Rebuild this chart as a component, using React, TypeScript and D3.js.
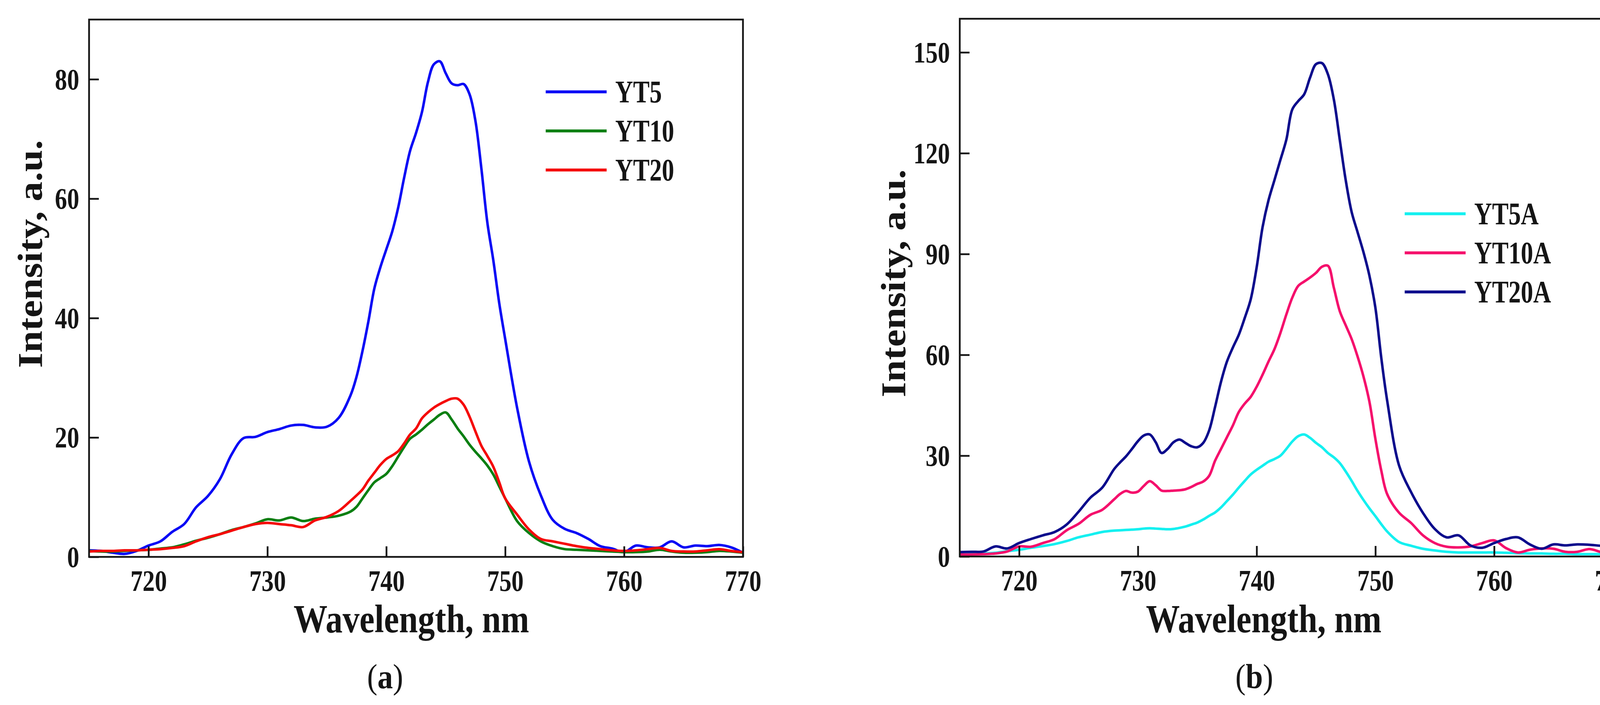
import React, { useEffect, useRef } from 'react';
import * as d3 from 'd3';

// wavelength grid, panel (a)
const wlA = [
  715, 716, 717, 718, 719, 720, 721, 722, 723, 724, 725, 726, 727, 728, 729, 730, 731, 732, 733, 734, 735, 736, 737,
  737.5, 738, 738.5, 739, 739.5, 740, 740.5, 741, 741.5, 742, 742.5, 743, 743.5, 744, 744.5, 745, 745.5, 746, 746.5,
  747, 747.5, 748, 748.5, 749, 749.5, 750,
  751, 752, 753, 754, 755, 756, 757, 758, 759, 760, 761, 762, 763, 764, 765, 766, 767, 768, 769, 770,
];

const yt5 = [
  1.1, 1.0, 0.7, 0.5, 1.0, 1.9, 2.6, 4.2, 5.5, 8.3, 10.2, 13.0, 17.2, 19.9, 20.1, 20.9, 21.4, 22.0, 22.1, 21.7, 21.8, 23.3, 27.1,
  30.2, 34.5, 39.5, 45.0, 48.5, 51.5, 54.5, 58.5, 63.5, 68.0, 71.0, 74.5, 79.5, 82.5, 83.0, 81.0, 79.3, 79.0, 79.2,
  77.5, 73.0, 65.0, 56.0, 49.7, 42.5, 36.5,
  25.0, 16.0, 10.3, 6.2, 4.7, 4.0, 3.0, 1.8, 1.4, 0.8, 1.9, 1.6, 1.6, 2.6, 1.6, 1.9, 1.8, 2.0, 1.6, 0.7,
];

const yt10 = [
  1.0, 0.9, 0.9, 1.0, 1.1, 1.2, 1.4, 1.6, 2.1, 2.7, 3.2, 3.8, 4.5, 5.0, 5.6, 6.3, 6.1, 6.6, 6.0, 6.4, 6.6, 6.9, 7.6,
  8.4, 9.8, 11.2, 12.5, 13.2, 13.9, 15.2, 16.8, 18.4, 19.8, 20.5, 21.3, 22.2, 23.0, 23.8, 24.2, 23.0, 21.5, 20.2,
  18.8, 17.6, 16.5, 15.3, 13.8, 11.8, 9.8,
  6.0, 4.0, 2.6, 1.8, 1.3, 1.2, 1.1, 1.0, 0.9, 0.8, 0.8, 0.9, 1.2, 0.9, 0.7, 0.7, 0.8, 1.0, 0.9, 0.7,
];

const yt20 = [
  0.9, 1.0, 1.0, 1.1, 1.1, 1.2, 1.3, 1.5, 1.8, 2.6, 3.3, 3.8, 4.4, 5.0, 5.5, 5.7, 5.5, 5.3, 5.0, 6.1, 6.7, 7.7, 9.4,
  10.3, 11.3, 12.8, 14.1, 15.4, 16.4, 17.0, 17.7, 19.0, 20.5, 21.5, 23.2, 24.2, 25.0, 25.6, 26.1, 26.5, 26.5, 25.5,
  23.5, 21.0, 18.6, 16.9, 15.1, 12.5, 9.8,
  7.1, 4.6, 3.0, 2.6, 2.2, 1.8, 1.5, 1.3, 1.1, 1.0, 1.1, 1.3, 1.5, 1.0, 0.9, 0.9, 1.1, 1.3, 1.0, 0.8,
];

// wavelength grid, panel (b)
const wlB = [
  715, 716, 717, 718, 719, 720, 721, 722, 723, 724, 725, 726, 727, 728,
  728.5, 729, 729.5, 730, 730.5, 731, 731.5, 732, 732.5, 733, 733.5, 734, 734.5, 735, 735.5, 736, 736.5, 737, 737.5,
  738, 738.5, 739, 739.5, 740, 740.5, 741, 741.5, 742, 742.5, 743, 743.5, 744, 744.5, 745, 745.5, 746, 746.5, 747,
  747.5, 748, 748.5, 749, 749.5, 750, 750.5, 751,
  752, 753, 754, 755, 756, 757, 758, 759, 760, 761, 762, 763, 764, 765, 766, 767, 768, 769, 770,
];

const yt5a = [
  0.6, 0.7, 0.9, 1.1, 1.6, 2.0, 2.6, 3.1, 3.7, 4.6, 5.7, 6.5, 7.3, 7.7,
  7.8, 7.9, 8.0, 8.1, 8.3, 8.4, 8.3, 8.2, 8.1, 8.2, 8.5, 8.9, 9.5, 10.1, 11.0, 12.1, 13.1, 14.6, 16.5,
  18.4, 20.5, 22.5, 24.4, 25.8, 27.0, 28.2, 29.0, 30.0, 32.0, 34.2, 35.8, 36.3, 35.3, 33.8, 32.5, 30.8, 29.5, 27.8,
  25.3, 22.5, 19.5, 16.8, 14.3, 12.0, 9.6, 7.4,
  4.3, 3.2, 2.3, 1.8, 1.4, 1.2, 1.2, 1.2, 1.2, 1.1, 1.0, 0.9, 0.9, 0.8, 0.8, 0.7, 0.7, 0.7, 0.7,
];

const yt10a = [
  0.6, 0.6, 0.7, 0.9, 1.5, 3.0, 2.9, 4.0, 5.2, 7.8, 9.7, 12.4, 13.9, 17.0,
  18.6, 19.5, 19.0, 19.3, 21.0, 22.4, 21.2, 19.6, 19.5, 19.6, 19.7, 20.0, 20.7, 21.6, 22.3, 24.0, 28.5, 32.0, 35.5,
  39.0, 43.0, 45.5, 47.5, 50.5, 54.1, 58.0, 61.7, 66.5, 72.0, 77.0, 80.5, 81.8, 83.0, 84.4, 86.2, 86.5, 80.0, 73.0,
  68.8, 64.7, 59.5, 53.5, 46.0, 35.0, 25.5, 18.5,
  13.0, 10.0, 6.3, 4.0, 2.9, 2.7, 3.0, 4.0, 4.8, 2.5, 1.2, 2.0, 2.4, 2.3, 1.4, 1.4, 2.2, 1.3, 0.3,
];

const yt20a = [
  1.3, 1.4, 1.5, 3.0, 2.4, 4.0, 5.2, 6.3, 7.3, 9.5, 13.3, 17.5, 20.5, 26.0,
  28.0, 29.8, 32.0, 34.3, 36.0, 36.3, 34.0, 30.8, 32.0, 34.0, 34.8, 33.8, 32.8, 32.5, 33.8, 37.5, 44.5, 52.0, 58.0,
  62.2, 66.0, 71.0, 76.5, 86.0, 98.0, 106.0, 112.0, 118.0, 124.0, 133.0, 135.5, 137.5, 142.5, 146.5, 146.8, 143.5, 136.0, 124.0,
  112.0, 102.5, 96.5, 90.5, 83.5, 74.0, 59.0, 46.2,
  27.0, 19.2, 13.0, 8.2, 5.7, 6.3, 3.3, 2.6, 4.0, 5.2, 5.7, 3.6, 2.3, 3.6, 3.3, 3.6, 3.5, 3.2, 3.2,
];

const xTicks = [720, 730, 740, 750, 760, 770];
const yTicksA = [0, 20, 40, 60, 80];
const yTicksB = [0, 30, 60, 90, 120, 150];

const namesA = ['YT5', 'YT10', 'YT20'];
const namesB = ['YT5A', 'YT10A', 'YT20A'];

const FONT = '"Liberation Serif", "Times New Roman", serif';
const INK = '#151515';

interface PanelConfig {
  id: string;
  left: number;
  right: number;
  top: number;
  bottom: number;
  yMax: number;
  yTicks: number[];
  wl: number[];
  series: number[][];
  names: string[];
  colors: string[];
  legendX: number;
  legendY: number;
  yLabelX: number;
  yLabelY: number;
  xLabelX: number;
  tagX: number;
  tag: string;
}

function drawPanel(root: d3.Selection<SVGSVGElement, unknown, null, undefined>, c: PanelConfig) {
  const x = d3.scaleLinear().domain([715, 770]).range([c.left, c.right]);
  const y = d3.scaleLinear().domain([0, c.yMax]).range([c.bottom, c.top]);

  const g = root.append('g');

  g.append('clipPath')
    .attr('id', `clip-${c.id}`)
    .append('rect')
    .attr('x', c.left)
    .attr('y', c.top)
    .attr('width', c.right - c.left)
    .attr('height', c.bottom - c.top);

  const line = d3.line<number>()
    .x((_, i) => x(c.wl[i]))
    .y(d => y(d))
    .curve(d3.curveCatmullRom.alpha(0.5));

  // curves
  c.series.forEach((s, i) => {
    g.append('path')
      .datum(s)
      .attr('clip-path', `url(#clip-${c.id})`)
      .attr('fill', 'none')
      .attr('stroke', c.colors[i])
      .attr('stroke-width', 6.5)
      .attr('stroke-linejoin', 'round')
      .attr('d', line);
  });

  // axes, ticks pointing inward
  const xAxis = g.append('g')
    .attr('transform', `translate(0,${c.bottom})`)
    .call(d3.axisBottom(x).tickValues(xTicks).tickSizeInner(-27).tickSizeOuter(0).tickPadding(32));

  const yAxis = g.append('g')
    .attr('transform', `translate(${c.left},0)`)
    .call(d3.axisLeft(y).tickValues(c.yTicks).tickSizeInner(-25).tickSizeOuter(0).tickPadding(31));

  [xAxis, yAxis].forEach(ax => {
    ax.select('.domain').remove();
    ax.selectAll('line').attr('stroke', INK).attr('stroke-width', 4.5);
    ax.selectAll('text')
      .attr('fill', INK)
      .attr('font-family', FONT)
      .attr('font-weight', 'bold')
      .attr('font-size', 77)
      .attr('transform', 'scale(0.81,1)');
  });
  yAxis.selectAll('text').attr('dy', '0.33em');

  // frame
  g.append('rect')
    .attr('x', c.left)
    .attr('y', c.top)
    .attr('width', c.right - c.left)
    .attr('height', c.bottom - c.top)
    .attr('fill', 'none')
    .attr('stroke', INK)
    .attr('stroke-width', 4.5);

  // legend
  c.names.forEach((name, i) => {
    const ly = c.legendY + i * 100;
    g.append('line')
      .attr('x1', c.legendX)
      .attr('x2', c.legendX + 156)
      .attr('y1', ly)
      .attr('y2', ly)
      .attr('stroke', c.colors[i])
      .attr('stroke-width', 7.5);
    g.append('text')
      .attr('transform', `translate(${c.legendX + 178},${ly + 27}) scale(0.79,1)`)
      .attr('font-family', FONT)
      .attr('font-weight', 'bold')
      .attr('font-size', 80)
      .attr('fill', INK)
      .text(name);
  });

  // axis titles
  g.append('text')
    .attr('transform', `translate(${c.yLabelX},${c.yLabelY}) scale(0.87,1) rotate(-90)`)
    .attr('text-anchor', 'middle')
    .attr('font-family', FONT)
    .attr('font-weight', 'bold')
    .attr('font-size', 101)
    .attr('fill', INK)
    .text('Intensity, a.u.');

  g.append('text')
    .attr('transform', `translate(${c.xLabelX},1618) scale(0.86,1)`)
    .attr('text-anchor', 'middle')
    .attr('font-family', FONT)
    .attr('font-weight', 'bold')
    .attr('font-size', 101)
    .attr('fill', INK)
    .text('Wavelength, nm');

  // panel tag
  const tag = g.append('text')
    .attr('transform', `translate(${c.tagX},1761) scale(0.9,1)`)
    .attr('text-anchor', 'middle')
    .attr('font-family', FONT)
    .attr('font-size', 88)
    .attr('fill', INK);
  tag.append('tspan').text('(');
  tag.append('tspan').attr('font-weight', 'bold').text(c.tag);
  tag.append('tspan').text(')');
}

const App: React.FC = () => {
  const svgRef = useRef<SVGSVGElement>(null);

  useEffect(() => {
    if (!svgRef.current) return;
    const svg = d3.select(svgRef.current);
    svg.selectAll('*').remove();

    svg.append('rect').attr('width', 4197).attr('height', 1804).attr('fill', '#fff');

    drawPanel(svg, {
      id: 'a',
      left: 228, right: 1902, top: 50, bottom: 1425,
      yMax: 90, yTicks: yTicksA,
      wl: wlA, series: [yt5, yt10, yt20], names: namesA,
      colors: ['#0a0af5', '#0c7f12', '#f50a0a'],
      legendX: 1397, legendY: 235,
      yLabelX: 107, yLabelY: 650, xLabelX: 1053,
      tagX: 986, tag: 'a',
    });

    drawPanel(svg, {
      id: 'b',
      left: 2457, right: 4129, top: 48, bottom: 1424,
      yMax: 160, yTicks: yTicksB,
      wl: wlB, series: [yt5a, yt10a, yt20a], names: namesB,
      colors: ['#14f0f0', '#f5106c', '#0c0c8c'],
      legendX: 3596, legendY: 547,
      yLabelX: 2317, yLabelY: 725, xLabelX: 3235,
      tagX: 3211, tag: 'b',
    });
  }, []);

  return (
    <svg
      ref={svgRef}
      width={4197}
      height={1804}
      style={{ position: 'absolute', left: 0, top: 0, display: 'block' }}
    />
  );
};

export default App;
